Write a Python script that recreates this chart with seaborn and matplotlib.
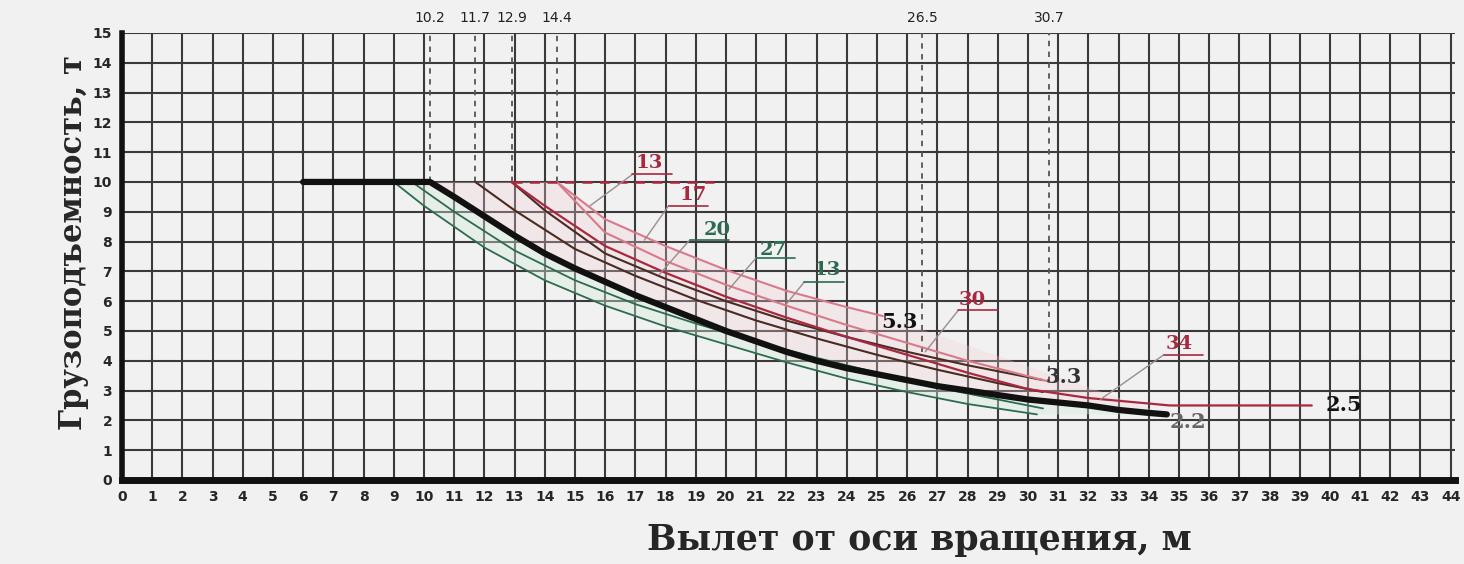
import matplotlib
matplotlib.use('Agg')
import matplotlib.pyplot as plt
import seaborn as sns
import numpy as np

# радиусы, на которых сделаны пунктирные вертикали (подписи сверху)
drop_x = [10.2, 11.7, 12.9, 14.4, 26.5, 30.7]
drop_bottom = [10, 10, 10, 10, 4.3, 3.3]
drop_labels = ['10.2', '11.7', '12.9', '14.4', '26.5', '30.7']

# основная (жирная) кривая грузоподъемности
main_x = [6, 10.2, 11, 12, 13, 14, 15, 16, 17, 18, 19, 20, 21, 22, 23, 24,
          25, 26, 27, 28, 29, 30, 31, 32, 33, 34, 34.6]
main_y = [10, 10, 9.5, 8.85, 8.2, 7.6, 7.1, 6.65, 6.2, 5.8, 5.4, 5.0, 4.65,
          4.3, 4.0, 3.75, 3.55, 3.35, 3.15, 3.0, 2.85, 2.7, 2.6, 2.5, 2.35,
          2.25, 2.2]

# зеленые кривые (ниже основной)
green1_x = [9.0, 10, 12, 14, 16, 18, 20, 22, 24, 26, 28, 30.3]
green1_y = [10, 9.2, 7.8, 6.7, 5.85, 5.15, 4.55, 3.95, 3.4, 2.95, 2.55, 2.2]
green2_x = [9.6, 11, 13, 15, 17, 19, 21, 23, 25, 27, 29, 30.5]
green2_y = [10, 9.0, 7.7, 6.7, 5.9, 5.25, 4.65, 4.1, 3.6, 3.1, 2.7, 2.4]

# темные кривые (выше основной)
dark1_x = [11.7, 13, 15, 17, 19, 21, 23, 25, 27, 29, 30.5]
dark1_y = [10, 9.05, 7.75, 6.85, 6.05, 5.35, 4.75, 4.2, 3.7, 3.25, 2.95]
dark2_x = [12.9, 14, 16, 18, 20, 22, 24, 26, 28, 30.5]
dark2_y = [10, 9.05, 7.6, 6.75, 6.0, 5.35, 4.8, 4.3, 3.85, 3.35]

# красные кривые
red_long_x = [12.9, 14, 16, 18, 20, 22, 24, 26, 28, 30, 32, 34.7, 39.4]
red_long_y = [10, 9.2, 7.85, 6.95, 6.15, 5.45, 4.8, 4.2, 3.6, 3.05, 2.75, 2.5, 2.5]
red_mid_x = [14.4, 16, 18, 20, 22, 24, 26, 28, 30.7]
red_mid_y = [10, 8.3, 7.35, 6.55, 5.85, 5.2, 4.6, 4.0, 3.3]
red_top_x = [14.4, 16, 18, 20, 22, 24, 25.2]
red_top_y = [10, 8.75, 7.85, 7.05, 6.35, 5.8, 5.5]
red_flat_x = [12.9, 19.6]
red_flat_y = [10, 10]

RED = '#a8293f'
PINK = '#d97a8c'
GREEN = '#2c6b4f'
DARK = '#4a2b22'
BG = '#f1f1f1'

sns.set_style('white')
plt.rcParams['font.family'] = ['Liberation Sans Narrow', 'DejaVu Sans']

fig = plt.figure(figsize=(14.64, 5.64), dpi=100, facecolor=BG)
ax = fig.add_axes([0.0833, 0.149, 0.9105, 0.7926])
ax.set_facecolor(BG)

# легкая заливка между кривыми, как на отсканированной схеме
ax.fill(np.r_[red_top_x, main_x[1:][::-1]], np.r_[red_top_y, main_y[1:][::-1]],
        color='#f4cdd5', alpha=0.3, lw=0, zorder=1)
ax.fill(np.r_[main_x[1:], green1_x[::-1]], np.r_[main_y[1:], green1_y[::-1]],
        color='#d3eedc', alpha=0.4, lw=0, zorder=1)

curves = [
    (green1_x, green1_y, GREEN, 1.3, '-'),
    (green2_x, green2_y, GREEN, 1.3, '-'),
    (dark1_x, dark1_y, DARK, 1.5, '-'),
    (dark2_x, dark2_y, DARK, 1.5, '-'),
    (red_long_x, red_long_y, RED, 1.6, '-'),
    (red_mid_x, red_mid_y, PINK, 1.5, '-'),
    (red_top_x, red_top_y, PINK, 1.5, '-'),
    (red_flat_x, red_flat_y, RED, 1.8, (0, (4, 3))),
]
for cx, cy, col, lw, ls in curves:
    sns.lineplot(x=cx, y=cy, ax=ax, color=col, lw=lw, linestyle=ls, zorder=3)

sns.lineplot(x=main_x, y=main_y, ax=ax, color='#111111', lw=4.5, zorder=4)

# пунктирные вертикали
ax.vlines(drop_x, drop_bottom, 15, colors='#555555', lw=1.3,
          linestyles=(0, (3, 3)), zorder=2)
for xv, lab in zip(drop_x, drop_labels):
    ax.text(xv, 15.5, lab, ha='center', va='center', fontsize=10,
            color='#222222', clip_on=False)

# подписи кривых с выносками
callouts = [
    ('13', RED, 17.45, 10.65, 16.9, 10.25, 15.5, 9.2),
    ('17', RED, 18.9, 9.55, 18.1, 9.2, 17.3, 8.05),
    ('20', GREEN, 19.7, 8.4, 18.8, 8.05, 17.8, 6.9),
    ('27', GREEN, 21.55, 7.7, 21.0, 7.45, 20.1, 6.4),
    ('13', GREEN, 23.35, 7.05, 22.6, 6.65, 22.0, 5.9),
    ('30', RED, 28.15, 6.05, 27.7, 5.7, 26.6, 4.3),
    ('34', RED, 35.0, 4.55, 34.5, 4.2, 32.4, 2.7),
]
for lab, col, tx, ty, ux, uy, px, py in callouts:
    ax.text(tx, ty, lab, ha='center', va='center', fontsize=14,
            fontweight='bold', color=col, family=['DejaVu Serif'], zorder=6)
    ax.plot([ux, ux + 1.3], [uy, uy], color=col, lw=1.2, zorder=6)
    ax.plot([ux, px], [uy, py], color='#9a8d8d', lw=1.0, zorder=5)

for lab, tx, ty, col in [('5.3', 25.75, 5.3, '#111111'), ('3.3', 31.2, 3.45, '#333333'),
                         ('2.5', 40.45, 2.5, '#111111'), ('2.2', 35.3, 1.95, '#666666')]:
    ax.text(tx, ty, lab, ha='center', va='center', fontsize=15,
            fontweight='bold', color=col, family=['DejaVu Serif'], zorder=6)

# сетка и оси
ax.set_xlim(0, 44.14)
ax.set_ylim(0, 15)
ax.set_xticks(range(0, 45))
ax.set_yticks(range(0, 16))
ax.grid(True, color='#3a3a3a', lw=1.5)
ax.set_axisbelow(True)
for side in ['top', 'right']:
    ax.spines[side].set_visible(False)
ax.spines['left'].set_linewidth(4)
ax.spines['bottom'].set_linewidth(5)
ax.spines['left'].set_color('#111111')
ax.spines['bottom'].set_color('#111111')
ax.tick_params(axis='both', length=4, width=1.5, color='#111111',
               labelsize=10, pad=3)
for t in ax.get_xticklabels() + ax.get_yticklabels():
    t.set_fontweight('bold')
ax.set_xlabel('')
ax.set_ylabel('')

fig.text(0.628, 0.043, 'Вылет от оси вращения, м', ha='center', va='center',
         fontsize=25, fontweight='bold', family=['DejaVu Serif'])
fig.text(0.05, 0.57, 'Грузоподъемность, т', ha='center', va='center',
         rotation=90, fontsize=22, fontweight='bold', family=['DejaVu Serif'])

fig.savefig('out.png', dpi=100, facecolor=BG)
